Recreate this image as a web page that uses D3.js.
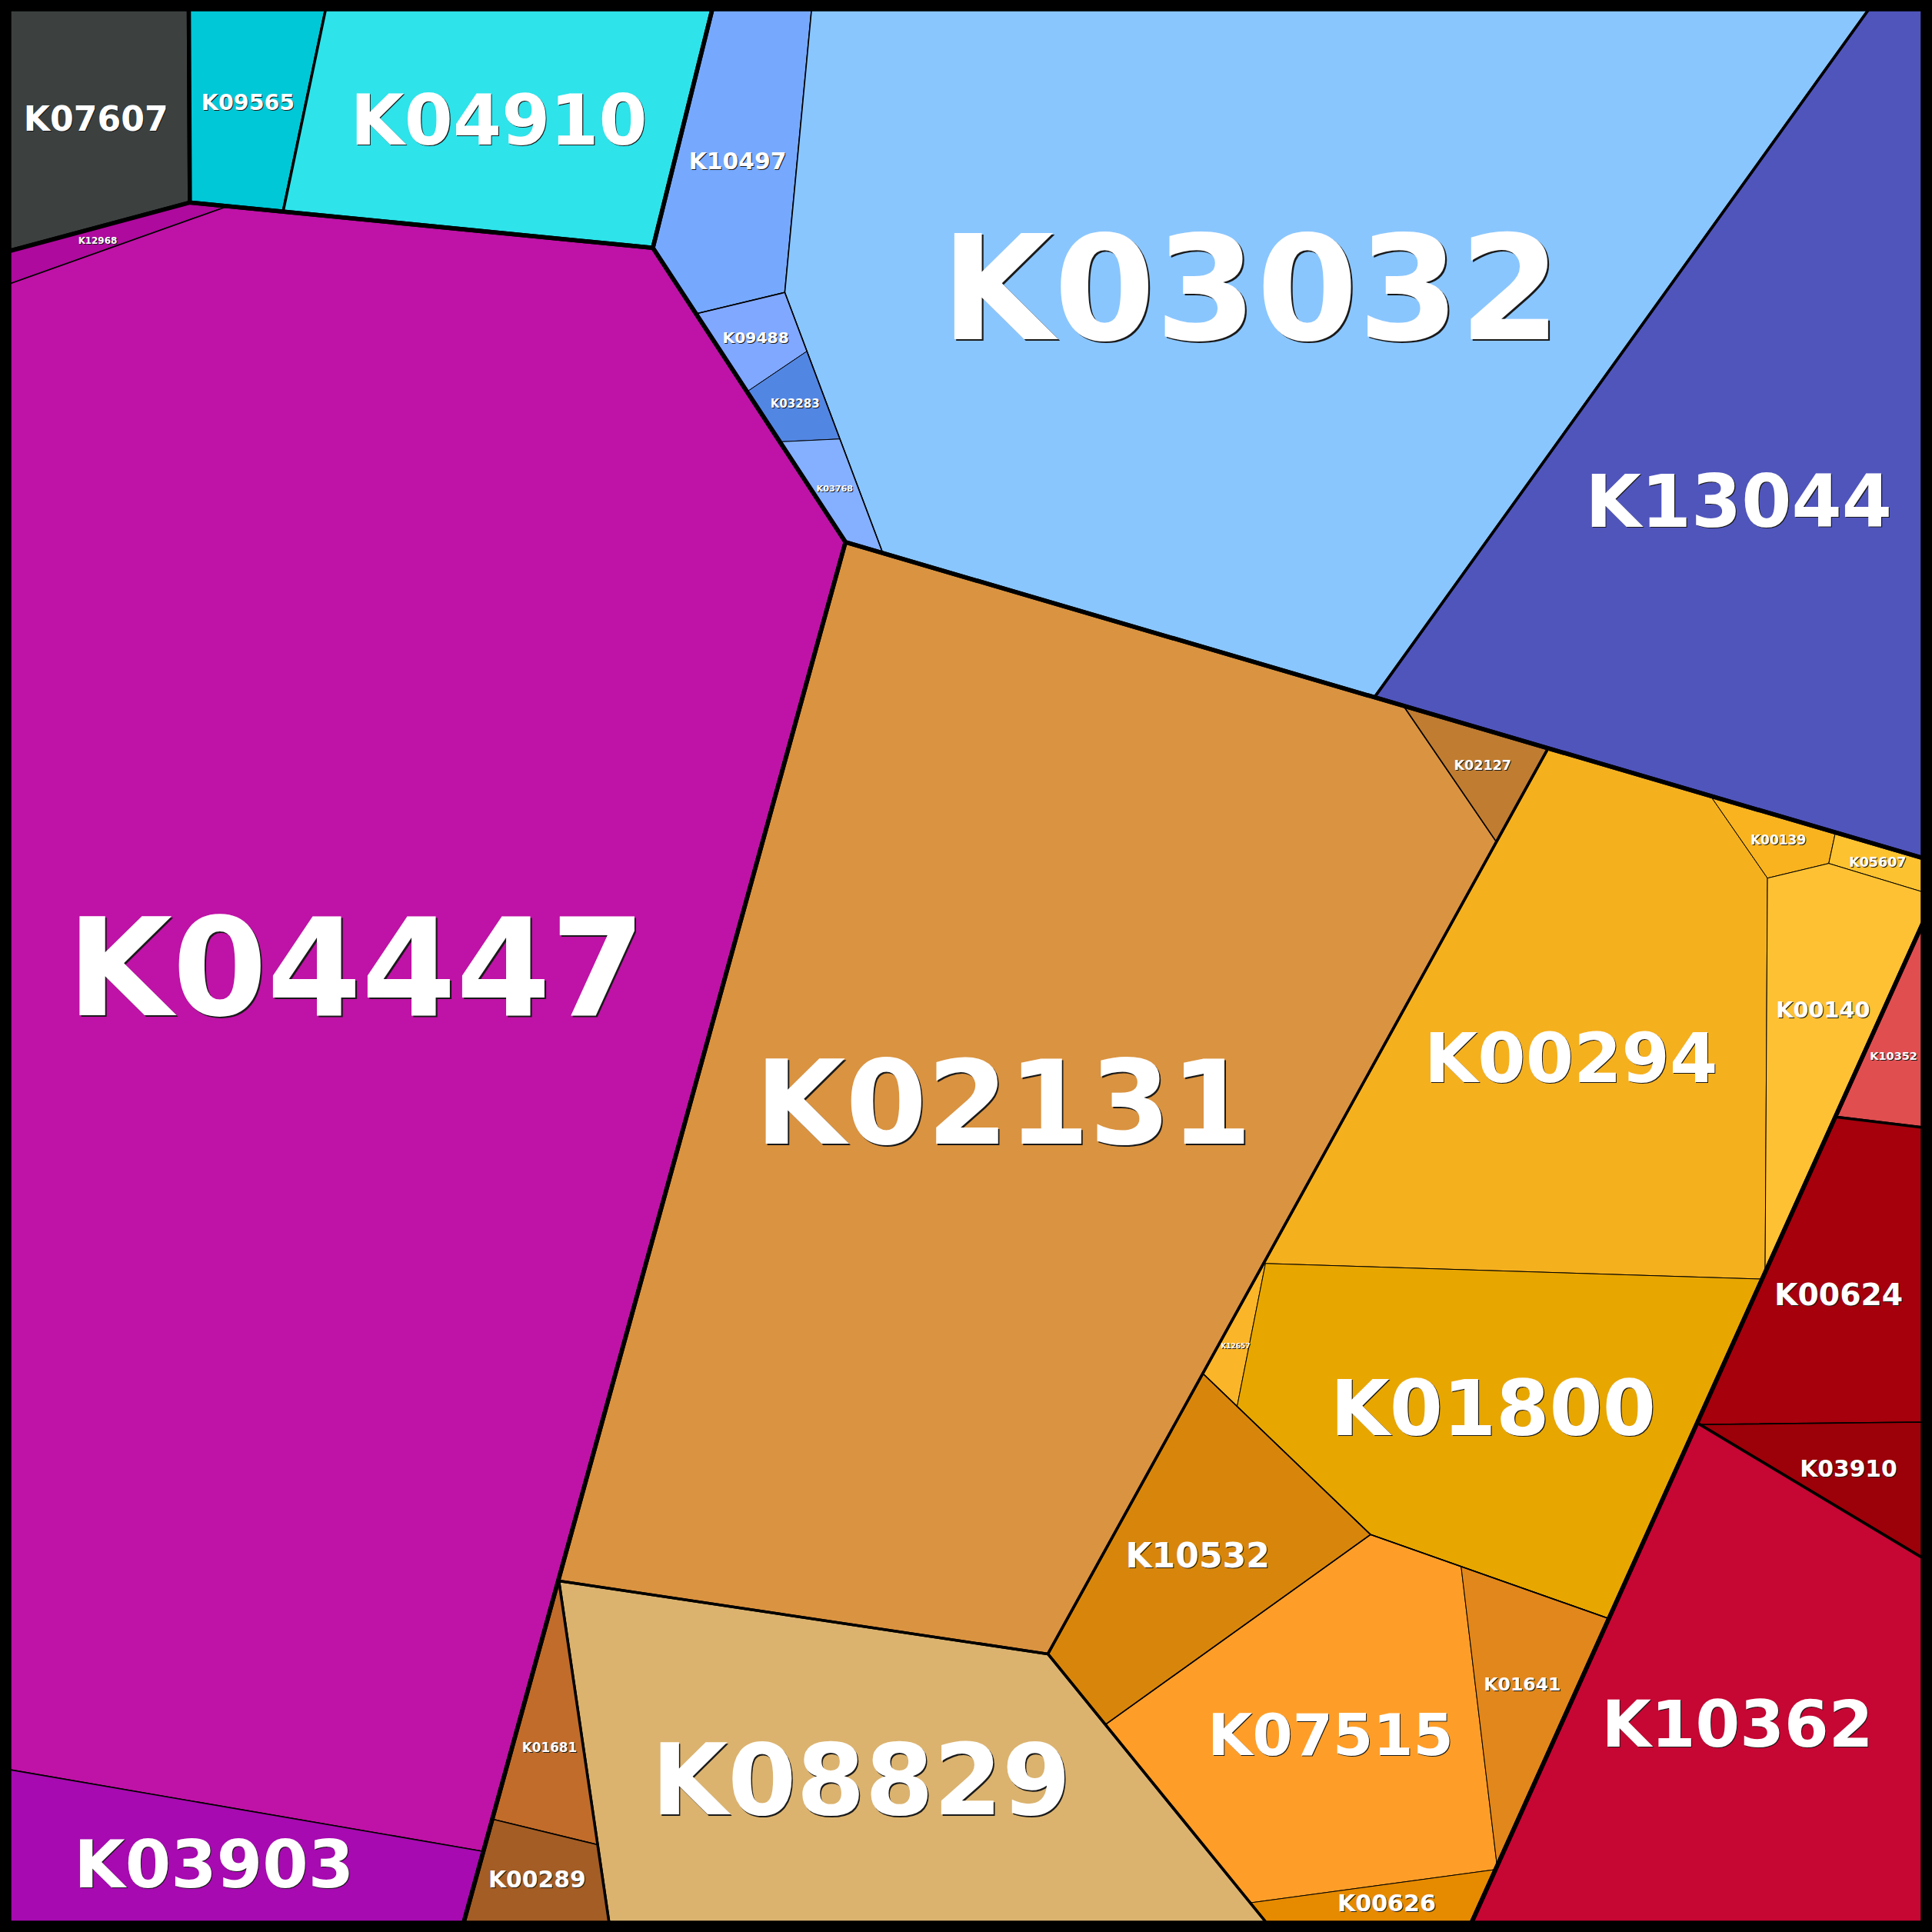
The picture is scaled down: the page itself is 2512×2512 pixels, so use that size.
<!DOCTYPE html>
<html>
<head>
<meta charset="utf-8">
<script src="https://cdn.jsdelivr.net/npm/d3@7"></script>
<style>
  body { margin: 0; background: #fff; }
  svg { display: block; }
</style>
</head>
<body>
<div id="chart"></div>
<script>
var svgWidth = 2512;
var svgHeight = 2512;
var frame = 12;   // black outer frame

// leaf KOs, their sizes and the branch of the hierarchy they hang from
var names = ["K07607", "K09565", "K04910", "K12968", "K04447", "K03903",
  "K10497", "K03032", "K09488", "K03283", "K03768", "K13044",
  "K02131", "K02127", "K00294", "K00139", "K05607", "K00140", "K12657", "K01800",
  "K10532", "K07515", "K01641", "K00626", "K08829", "K01681", "K00289",
  "K10352", "K00624", "K03910", "K10362"];
var values = [25.9, 15.1, 55.7, 3.2, 704, 34.7,
  22.8, 336.7, 4.1, 3.2, 3.3, 166,
  414, 5.2, 119.5, 3.3, 2.0, 22.9, 2.0, 82.4,
  33.6, 62.1, 14.0, 5.4, 112.4, 8.9, 7.6,
  5.9, 31.4, 10.0, 101.7];
var groups = ["", "C", "C", "M/M1", "M/M1", "M/M1",
  "B/B1", "B/B1", "B/B1/B11", "B/B1/B11", "B/B1/B11", "B",
  "O/O1", "O/O1", "O/O2/O21", "O/O2/O21", "O/O2/O21", "O/O2/O21", "O/O2/O21", "O/O2/O21",
  "O/O2", "O/O2/O22", "O/O2/O22", "O/O2/O22", "O", "O/O4", "O/O4",
  "R", "R/R1", "R/R1", "R"];

// starting sites of the power diagram, as fractions of the square
var seedX = [0.045, 0.123, 0.256, 0.037, 0.183, 0.108,
  0.379, 0.696, 0.396, 0.421, 0.423, 0.913,
  0.519, 0.771, 0.783, 0.926, 0.977, 0.950, 0.646, 0.777,
  0.607, 0.671, 0.771, 0.682, 0.468, 0.288, 0.279,
  0.986, 0.968, 0.969, 0.870];
var seedY = [0.055, 0.032, 0.060, 0.124, 0.534, 0.969,
  0.097, 0.127, 0.198, 0.235, 0.277, 0.304,
  0.569, 0.397, 0.535, 0.436, 0.447, 0.536, 0.700, 0.726,
  0.803, 0.914, 0.902, 0.995, 0.929, 0.939, 0.976,
  0.552, 0.678, 0.765, 0.863];

var colors = {
  K07607: "#3c4140", K09565: "#00c8d7", K04910: "#2ee3ea",
  K12968: "#ae0a9d", K04447: "#bf12a6", K03903: "#a60ab0",
  K10497: "#76a9fd", K03032: "#8ac6fe", K09488: "#80a8ff", K03283: "#5286e3",
  K03768: "#84b0ff", K13044: "#5055bc",
  K02131: "#da9340", K02127: "#c07c30", K00294: "#f5b01e", K00139: "#f8b31f",
  K05607: "#fdc230", K00140: "#fec134", K12657: "#fbb528", K01800: "#e8a600",
  K10532: "#d8860b", K07515: "#fe9e28", K01641: "#e2871b", K00626: "#e68a00",
  K08829: "#dbb36f", K01681: "#c16c2a", K00289: "#a35d25",
  K10352: "#e04e50", K00624: "#a5000c", K03910: "#9c0008", K10362: "#c60633"
};
var strokeByDepth = [0, 5.5, 3.5, 1.6, 1.0];

var x = d3.scaleLinear().domain([0, 1]).range([frame, svgWidth - frame]);
var y = d3.scaleLinear().domain([0, 1]).range([frame, svgHeight - frame]);

var svg = d3.select("#chart")
  .append("svg")
  .attr("width", svgWidth)
  .attr("height", svgHeight);

// build the nested hierarchy from the flat arrays
var rootData = { name: "root", children: [] };
names.forEach(function(name, i) {
  var node = rootData;
  if (groups[i]) {
    groups[i].split("/").forEach(function(g) {
      var next = node.children.find(function(c) { return c.name === g; });
      if (!next) {
        next = { name: g, children: [] };
        node.children.push(next);
      }
      node = next;
    });
  }
  node.children.push({ name: name, value: values[i], sx: seedX[i], sy: seedY[i] });
});

var root = d3.hierarchy(rootData).sum(function(d) { return d.value || 0; });

// a group's site is the value weighted mean of its leaves' sites
root.eachAfter(function(node) {
  if (node.children) {
    var sx = 0, sy = 0;
    node.children.forEach(function(c) {
      sx += c.sx * c.value;
      sy += c.sy * c.value;
    });
    node.sx = sx / node.value;
    node.sy = sy / node.value;
  } else {
    node.sx = node.data.sx;
    node.sy = node.data.sy;
  }
});

// keep the part of poly where ax*x + ay*y <= b
function clipHalf(poly, ax, ay, b) {
  var out = [];
  for (var k = 0; k < poly.length; k++) {
    var P = poly[k], Q = poly[(k + 1) % poly.length];
    var fp = ax * P[0] + ay * P[1] - b;
    var fq = ax * Q[0] + ay * Q[1] - b;
    if (fp <= 0) out.push(P);
    if ((fp < 0 && fq > 0) || (fp > 0 && fq < 0)) {
      var t = fp / (fp - fq);
      out.push([P[0] + t * (Q[0] - P[0]), P[1] + t * (Q[1] - P[1])]);
    }
  }
  return out;
}

function bisector(i, j, sites, w) {
  var pi = sites[i], pj = sites[j];
  return {
    ax: 2 * (pj[0] - pi[0]),
    ay: 2 * (pj[1] - pi[1]),
    b: pj[0] * pj[0] + pj[1] * pj[1] - pi[0] * pi[0] - pi[1] * pi[1] - w[j] + w[i]
  };
}

function powerCell(i, sites, w, clip) {
  var poly = clip;
  for (var j = 0; j < sites.length && poly.length > 2; j++) {
    if (j === i) continue;
    var h = bisector(i, j, sites, w);
    poly = clipHalf(poly, h.ax, h.ay, h.b);
  }
  return poly.length > 2 ? poly : [];
}

function sharedLength(poly, h) {
  var n = Math.hypot(h.ax, h.ay), len = 0;
  for (var k = 0; k < poly.length; k++) {
    var P = poly[k], Q = poly[(k + 1) % poly.length];
    var dp = (h.ax * P[0] + h.ay * P[1] - h.b) / n;
    var dq = (h.ax * Q[0] + h.ay * Q[1] - h.b) / n;
    if (Math.abs(dp) < 0.01 && Math.abs(dq) < 0.01) len += Math.hypot(Q[0] - P[0], Q[1] - P[1]);
  }
  return len;
}

// adapt the weights until every cell has its target area
function solveWeights(sites, targets, clip) {
  var n = sites.length, w = sites.map(function() { return 0; }), cells;
  for (var it = 0; it < 800; it++) {
    cells = sites.map(function(p, i) { return powerCell(i, sites, w, clip); });
    var worst = 0, next = w.slice();
    for (var i = 0; i < n; i++) {
      var area = cells[i].length ? Math.abs(d3.polygonArea(cells[i])) : 0;
      worst = Math.max(worst, Math.abs(area - targets[i]) / targets[i]);
      if (!area) {
        var m = -Infinity;
        for (var j = 0; j < n; j++) {
          if (j === i) continue;
          var dx = sites[i][0] - sites[j][0], dy = sites[i][1] - sites[j][1];
          m = Math.max(m, w[j] - dx * dx - dy * dy);
        }
        next[i] = Math.max(w[i], m) + Math.abs(w[i]) * 0.1 + 100;
        continue;
      }
      var D = 0;
      for (var j2 = 0; j2 < n; j2++) {
        if (j2 === i) continue;
        var h = bisector(i, j2, sites, w);
        D += sharedLength(cells[i], h) / Math.hypot(h.ax, h.ay);
      }
      if (D > 0) next[i] = w[i] + 0.5 * (targets[i] - area) / D;
    }
    w = next;
    if (worst < 1e-4) break;
  }
  return cells;
}

function layout(node, poly) {
  node.polygon = poly;
  if (!node.children) return;
  if (node.children.length === 1) {
    layout(node.children[0], poly);
    return;
  }
  var sites = node.children.map(function(c) { return [x(c.sx), y(c.sy)]; });
  var total = Math.abs(d3.polygonArea(poly));
  var targets = node.children.map(function(c) { return total * c.value / node.value; });
  var cells = solveWeights(sites, targets, poly);
  node.children.forEach(function(c, i) { layout(c, cells[i]); });
}

layout(root, [[x(0), y(0)], [x(1), y(0)], [x(1), y(1)], [x(0), y(1)]]);

var line = d3.line().curve(d3.curveLinearClosed);

// leaf cells
svg.append("g")
  .selectAll("path")
  .data(root.leaves())
  .enter()
  .append("path")
  .attr("d", function(d) { return line(d.polygon); })
  .attr("fill", function(d) { return colors[d.data.name]; })
  .attr("stroke", "#000")
  .attr("stroke-width", function(d) { return strokeByDepth[d.depth]; })
  .attr("stroke-linejoin", "round");

// group outlines, deepest first so the top level borders end up thickest
var groupNodes = root.descendants()
  .filter(function(d) { return d.depth > 0 && d.children; })
  .sort(function(a, b) { return b.depth - a.depth; });

svg.append("g")
  .selectAll("path")
  .data(groupNodes)
  .enter()
  .append("path")
  .attr("d", function(d) { return line(d.polygon); })
  .attr("fill", "none")
  .attr("stroke", "#000")
  .attr("stroke-width", function(d) { return strokeByDepth[d.depth]; })
  .attr("stroke-linejoin", "round");

svg.append("rect")
  .attr("x", frame / 2)
  .attr("y", frame / 2)
  .attr("width", svgWidth - frame)
  .attr("height", svgHeight - frame)
  .attr("fill", "none")
  .attr("stroke", "#000")
  .attr("stroke-width", frame);

// labels: largest size whose box still sits inside the cell
var labels = svg.append("g")
  .attr("font-family", "'DejaVu Sans', sans-serif")
  .attr("font-weight", "bold")
  .attr("text-anchor", "middle");

var probe = labels.append("text").attr("font-size", 100);

root.leaves().forEach(function(d) {
  var poly = d.polygon;
  var c = d3.polygonCentroid(poly);
  probe.text(d.data.name);
  var w100 = probe.node().getComputedTextLength();
  function fits(fs) {
    var hw = w100 * fs / 100 * 0.6, hh = 0.73 * fs * 0.62;
    return d3.polygonContains(poly, [c[0] - hw, c[1] - hh]) &&
      d3.polygonContains(poly, [c[0] + hw, c[1] - hh]) &&
      d3.polygonContains(poly, [c[0] - hw, c[1] + hh]) &&
      d3.polygonContains(poly, [c[0] + hw, c[1] + hh]);
  }
  var lo = 2, hi = 400;
  for (var k = 0; k < 30; k++) {
    var mid = (lo + hi) / 2;
    if (fits(mid)) lo = mid; else hi = mid;
  }
  d.fontSize = Math.max(lo, 9);
  d.cx = c[0];
  d.cy = c[1];
});
probe.remove();

var leafLabels = labels.selectAll("g")
  .data(root.leaves())
  .enter()
  .append("g")
  .attr("font-size", function(d) { return d.fontSize; });

// dark shadow offset down-right, white text on top
leafLabels.append("text")
  .attr("x", function(d) { return d.cx + Math.max(1, d.fontSize * 0.012); })
  .attr("y", function(d) { return d.cy + 0.365 * d.fontSize + Math.max(1, d.fontSize * 0.012); })
  .attr("fill", "#1a1a1a")
  .text(function(d) { return d.data.name; });

leafLabels.append("text")
  .attr("x", function(d) { return d.cx; })
  .attr("y", function(d) { return d.cy + 0.365 * d.fontSize; })
  .attr("fill", "#fff")
  .text(function(d) { return d.data.name; });
</script>
</body>
</html>
